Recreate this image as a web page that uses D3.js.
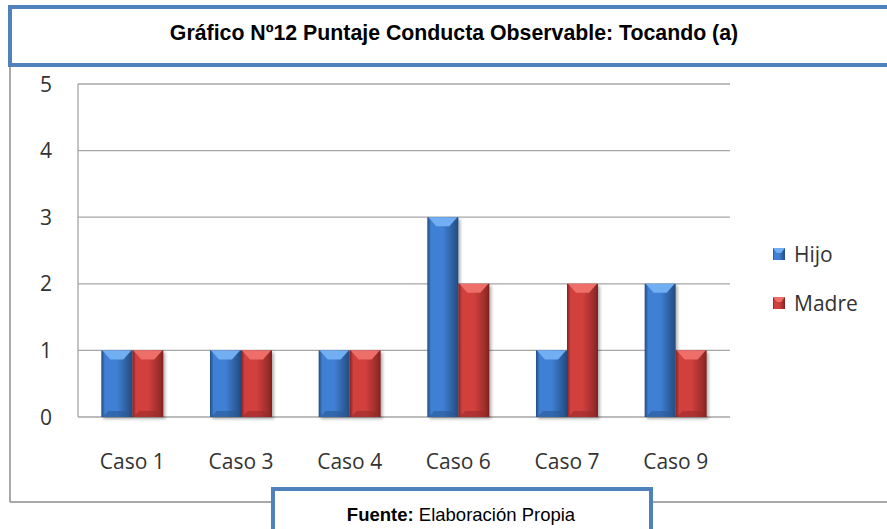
<!DOCTYPE html>
<html>
<head>
<meta charset="utf-8">
<script src="https://cdn.jsdelivr.net/npm/d3@7"></script>
<style>
  body { margin: 0; background: #fff; }
  svg { display: block; }
</style>
</head>
<body>
<svg id="chart" width="887" height="529"></svg>
<script>
// data
var casos = ["Caso 1", "Caso 3", "Caso 4", "Caso 6", "Caso 7", "Caso 9"];
var hijo  = [1, 1, 1, 3, 1, 2];
var madre = [1, 1, 1, 2, 2, 1];
var series = ["Hijo", "Madre"];
var yTicks = [0, 1, 2, 3, 4, 5];

var colors = {
  Hijo:  {main: "#3f80d4", light: "#72aef2", dark: "#2a5894", edge: "#234b80"},
  Madre: {main: "#d2403e", light: "#ee6e6a", dark: "#9a2c2a", edge: "#7e2220"}
};

var svg = d3.select("#chart");

// outer frame of the chart (grey)
svg.append("line").attr("x1", 10).attr("x2", 10).attr("y1", 64).attr("y2", 502)
  .attr("stroke", "#8c8c8c").attr("stroke-width", 1.5);
svg.append("line").attr("x1", 10).attr("x2", 887).attr("y1", 502).attr("y2", 502)
  .attr("stroke", "#8c8c8c").attr("stroke-width", 1.5);

// plot area
var plot = {left: 78, right: 730, top: 84, bottom: 417};

var x = d3.scaleBand()
  .domain(casos)
  .range([plot.left, plot.right])
  .paddingInner(0)
  .paddingOuter(0);

var y = d3.scaleLinear()
  .domain([0, 5])
  .range([plot.bottom, plot.top]);

var barW = 31;

// gradients
var defs = svg.append("defs");
series.forEach(function(s) {
  var c = colors[s];
  var g = defs.append("linearGradient").attr("id", "grad-" + s)
    .attr("x1", "0%").attr("x2", "100%").attr("y1", "0%").attr("y2", "0%");
  g.append("stop").attr("offset", "0%").attr("stop-color", c.edge);
  g.append("stop").attr("offset", "12%").attr("stop-color", c.main);
  g.append("stop").attr("offset", "50%").attr("stop-color", c.main);
  g.append("stop").attr("offset", "88%").attr("stop-color", c.dark);
  g.append("stop").attr("offset", "100%").attr("stop-color", c.edge);
});
var shadow = defs.append("filter").attr("id", "shadow")
  .attr("x", "-20%").attr("y", "-10%").attr("width", "150%").attr("height", "130%");
shadow.append("feDropShadow").attr("dx", 2).attr("dy", 2).attr("stdDeviation", 1.5)
  .attr("flood-color", "#000").attr("flood-opacity", 0.3);

// gridlines
svg.append("g").selectAll("line")
  .data(yTicks.filter(function(d) { return d > 0; }))
  .enter().append("line")
  .attr("x1", plot.left).attr("x2", plot.right)
  .attr("y1", function(d) { return y(d); })
  .attr("y2", function(d) { return y(d); })
  .attr("stroke", "#a6a6a6").attr("stroke-width", 1.3);

// axes lines
svg.append("line").attr("x1", plot.left).attr("x2", plot.left)
  .attr("y1", plot.top).attr("y2", plot.bottom)
  .attr("stroke", "#a6a6a6").attr("stroke-width", 1.3);
svg.append("line").attr("x1", plot.left).attr("x2", plot.right)
  .attr("y1", plot.bottom).attr("y2", plot.bottom)
  .attr("stroke", "#a6a6a6").attr("stroke-width", 1.3);

// y tick labels
svg.append("g").selectAll("text")
  .data(yTicks)
  .enter().append("text")
  .attr("x", 46)
  .attr("y", function(d) { return y(d); })
  .attr("dy", "0.36em")
  .attr("text-anchor", "middle")
  .attr("font-family", "Open Sans, sans-serif")
  .attr("font-size", "21px")
  .attr("fill", "#333")
  .text(function(d) { return d; });

// x labels
svg.append("g").selectAll("text")
  .data(casos)
  .enter().append("text")
  .attr("x", function(d) { return x(d) + x.bandwidth() / 2; })
  .attr("y", 469)
  .attr("text-anchor", "middle")
  .attr("font-family", "Open Sans, sans-serif")
  .attr("font-size", "21px")
  .attr("fill", "#333")
  .text(function(d) { return d; });

// bars
var rows = [];
casos.forEach(function(c, i) {
  rows.push({caso: c, serie: "Hijo", value: hijo[i], k: 0});
  rows.push({caso: c, serie: "Madre", value: madre[i], k: 1});
});

var bars = svg.append("g").selectAll("g.bar")
  .data(rows)
  .enter().append("g")
  .attr("class", "bar")
  .attr("filter", "url(#shadow)");

function bx(d) { return x(d.caso) + x.bandwidth() / 2 - barW + d.k * barW; }

bars.append("rect")
  .attr("x", bx)
  .attr("y", function(d) { return y(d.value); })
  .attr("width", barW)
  .attr("height", function(d) { return y(0) - y(d.value); })
  .attr("fill", function(d) { return "url(#grad-" + d.serie + ")"; });

// bevel top
bars.append("polygon")
  .attr("points", function(d) {
    var x0 = bx(d), y0 = y(d.value);
    return [[x0 + 1, y0], [x0 + barW - 1, y0], [x0 + barW - 9, y0 + 9], [x0 + 9, y0 + 9]].join(" ");
  })
  .attr("fill", function(d) { return colors[d.serie].light; });

// bevel bottom
bars.append("polygon")
  .attr("points", function(d) {
    var x0 = bx(d), y0 = y(0);
    return [[x0 + 1, y0], [x0 + barW - 1, y0], [x0 + barW - 7, y0 - 6], [x0 + 7, y0 - 6]].join(" ");
  })
  .attr("fill", function(d) { return colors[d.serie].dark; })
  .attr("opacity", 0.6);

// legend
var legend = svg.append("g").selectAll("g")
  .data(series)
  .enter().append("g")
  .attr("transform", function(d, i) { return "translate(773," + (254 + i * 49) + ")"; });

legend.append("rect")
  .attr("x", 0).attr("y", -6).attr("width", 12).attr("height", 12)
  .attr("fill", function(d) { return "url(#grad-" + d + ")"; });
legend.append("polygon")
  .attr("points", "0,-6 12,-6 8,-1 4,-1")
  .attr("fill", function(d) { return colors[d].light; });
legend.append("text")
  .attr("x", 21).attr("y", 0).attr("dy", "0.36em")
  .attr("font-family", "Open Sans, sans-serif")
  .attr("font-size", "21px")
  .attr("fill", "#333")
  .text(function(d) { return d; });

// title box
svg.append("rect")
  .attr("x", 10).attr("y", 7).attr("width", 890).attr("height", 58)
  .attr("fill", "#fff").attr("stroke", "#4f81bd").attr("stroke-width", 4);
svg.append("text")
  .attr("x", 454).attr("y", 40)
  .attr("text-anchor", "middle")
  .attr("font-family", "Liberation Sans, Arial, sans-serif")
  .attr("font-weight", "bold")
  .attr("font-size", "21.3px")
  .attr("fill", "#000")
  .text("Gráfico Nº12 Puntaje Conducta Observable: Tocando (a)");

// footer box
svg.append("rect")
  .attr("x", 273).attr("y", 489).attr("width", 378).attr("height", 60)
  .attr("fill", "#fff").attr("stroke", "#4f81bd").attr("stroke-width", 4);
var foot = svg.append("text")
  .attr("x", 461).attr("y", 521)
  .attr("text-anchor", "middle")
  .attr("font-family", "Liberation Sans, Arial, sans-serif")
  .attr("font-size", "18.5px")
  .attr("fill", "#000");
foot.append("tspan").attr("font-weight", "bold").text("Fuente:");
foot.append("tspan").text(" Elaboración Propia");
</script>
</body>
</html>
